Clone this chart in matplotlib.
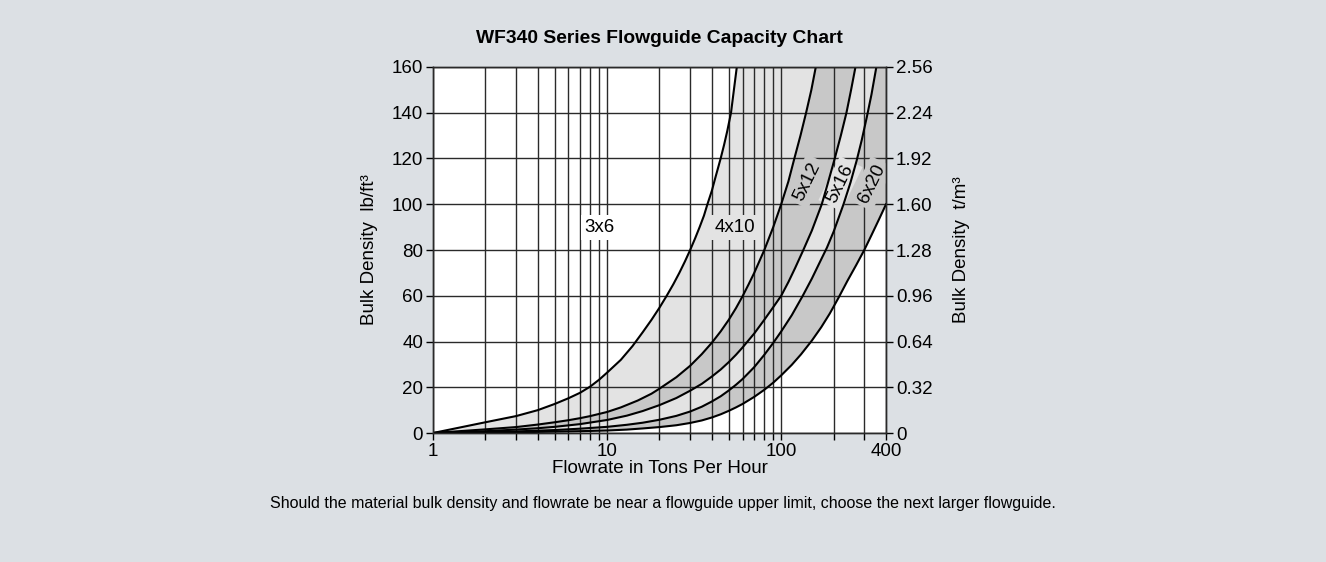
import matplotlib
matplotlib.use('Agg')
import matplotlib.pyplot as plt
from matplotlib.ticker import FixedLocator

plt.rcParams['font.family'] = ['Liberation Sans', 'DejaVu Sans']

# flowguide boundary curves (tons per hour, lb/ft3)
x_a = [1, 2, 3, 4, 5, 6, 7, 8, 9, 10, 12, 14, 16, 18, 20, 22, 24, 26, 28, 30,
       32, 34, 36, 37.7, 40, 42, 44.9, 47, 49, 51.5, 53.5, 55.6]
y_a = [0, 4.7, 7.4, 10, 12.7, 15.2, 17.6, 20.3, 23.3, 26.4, 32, 38, 44, 49.5, 54.8, 60, 65, 70, 75, 80,
       85, 90, 95, 100, 106, 112, 120, 126, 132, 140, 150, 160]

x_b = [1, 2, 3, 4, 5, 6, 7, 8, 10, 12, 15, 18, 20, 25, 30, 35, 40, 45, 50, 55,
       60, 65, 70, 80, 90, 100, 110, 119, 129, 139, 149, 158]
y_b = [0, 1.6, 2.6, 3.7, 4.7, 5.6, 6.5, 7.4, 9.2, 11.2, 14.2, 17.2, 19.4, 24.4, 29.4, 34.5, 39.5, 44.5, 49.5, 54.6,
       59.8, 65, 70, 80, 90, 100, 110, 120, 130, 140, 150, 160]

x_c = [1, 2, 3, 4, 5, 7, 10, 13, 16, 20, 25, 30, 35, 40, 45, 50, 55, 60, 70, 80, 90,
       100, 110, 120, 134, 150, 171, 185, 203, 220, 237, 252, 267]
y_c = [0, 0.8, 1.5, 2.1, 2.7, 3.9, 5.7, 7.6, 9.6, 12.2, 15.3, 18.5, 21.5, 24.7, 27.8, 31, 34.2, 37.4, 43.5, 49.5, 55,
       60, 66, 72, 80, 88.5, 100, 109, 120, 130, 140, 150, 160]

x_d = [1, 2, 3, 5, 7, 10, 13, 16, 20, 25, 30, 35, 40, 45, 50, 55, 60, 70, 80, 90, 100,
       115, 133, 150, 165, 183, 200, 228, 250, 271, 290, 310, 330, 352]
y_d = [0, 0.4, 0.7, 1.3, 1.9, 2.7, 3.6, 4.5, 5.8, 7.5, 9.4, 11.5, 13.8, 16.1, 18.6, 21.1, 23.6, 28.8, 34.2, 39.4, 44.4,
       51.5, 60, 67.5, 74, 81, 88, 100, 109.5, 119, 128, 138, 148, 160]

x_e = [1, 2, 3, 5, 7, 10, 13, 16, 20, 25, 30, 35, 40, 45, 50, 55, 60, 70, 80, 90, 100,
       115, 130, 150, 170, 190, 213, 240, 270, 300, 330, 365, 400]
y_e = [0, 0.2, 0.35, 0.6, 0.8, 1.1, 1.5, 2.0, 2.6, 3.4, 4.4, 5.5, 6.8, 8.2, 9.7, 11.2, 12.7, 15.8, 18.9, 22, 25.2,
       29.8, 34.4, 40.4, 46.3, 52.2, 59, 66.5, 73.5, 80, 86.5, 93.5, 100]

size_labels = ['3x6', '4x10', '5x12', '5x16', '6x20']
label_x = [9.1, 54, 141, 219, 330]
label_y = [90, 90, 110, 109, 109]

y_ticks_lb = [0, 20, 40, 60, 80, 100, 120, 140, 160]
y_ticks_t = ['0', '0.32', '0.64', '0.96', '1.28', '1.60', '1.92', '2.24', '2.56']
x_grid = [1, 2, 3, 4, 5, 6, 7, 8, 9, 10, 20, 30, 40, 50, 60, 70, 80, 90, 100, 200, 300, 400]
x_ticklabels = [1, 10, 100, 400]

bg = '#dce0e4'
light = '#e3e3e3'
dark = '#c8c8c8'
fs = 13.5

fig = plt.figure(figsize=(13.26, 5.62), dpi=100, facecolor=bg)
ax = fig.add_axes([0.3265, 0.2295, 0.3417, 0.6513])
ax.set_facecolor('white')
ax.set_xscale('log')
ax.set_xlim(1, 400)
ax.set_ylim(0, 160)

# shaded bands between neighbouring curves
ax.fill(x_a + x_b[::-1], y_a + y_b[::-1], color=light, lw=0, zorder=1)
ax.fill(x_b + x_c[::-1], y_b + y_c[::-1], color=dark, lw=0, zorder=1)
ax.fill(x_c + x_d[::-1], y_c + y_d[::-1], color=light, lw=0, zorder=1)
ax.fill(x_d + [400] + x_e[::-1], y_d + [160] + y_e[::-1], color=dark, lw=0, zorder=1)

for v in x_grid:
    ax.axvline(v, color='#2a2a2a', lw=1.0, zorder=1.5)
for v in y_ticks_lb:
    ax.axhline(v, color='#2a2a2a', lw=1.0, zorder=1.5)

for xs, ys in [(x_a, y_a), (x_b, y_b), (x_c, y_c), (x_d, y_d), (x_e, y_e)]:
    ax.plot(xs, ys, color='black', lw=1.5, zorder=3, solid_joinstyle='round')

# size labels sit on a patch of their band colour, hiding the grid behind them
bgs = ['white', light, dark, light, dark]
rots = [0, 0, 64, 64, 64]
for lab, lx, ly, fc, r in zip(size_labels, label_x, label_y, bgs, rots):
    ax.text(lx, ly, lab, ha='center', va='center', fontsize=fs, rotation=r,
            rotation_mode='anchor', zorder=2.5, clip_on=True,
            bbox=dict(boxstyle='square,pad=0.22', fc=fc, ec='none'))

ax.xaxis.set_major_locator(FixedLocator(x_grid))
ax.xaxis.set_minor_locator(FixedLocator([]))
ax.set_xticklabels([str(v) if v in x_ticklabels else '' for v in x_grid])
ax.set_yticks(y_ticks_lb)
ax.tick_params(axis='both', direction='out', length=5, width=1, labelsize=fs, colors='black', pad=2)

ax2 = ax.twinx()
ax2.set_ylim(0, 160)
ax2.set_yticks(y_ticks_lb)
ax2.set_yticklabels(y_ticks_t)
ax2.tick_params(axis='y', direction='out', length=5, width=1, labelsize=fs, pad=2)

for a in (ax, ax2):
    for s in a.spines.values():
        s.set_color('#2a2a2a')
        s.set_linewidth(1.0)

ax.set_ylabel('Bulk Density  lb/ft³', fontsize=fs, labelpad=10)
ax2.set_ylabel('Bulk Density  t/m³', fontsize=fs, labelpad=15)
ax.set_xlabel('Flowrate in Tons Per Hour', fontsize=fs, labelpad=0)
ax.set_title('WF340 Series Flowguide Capacity Chart', fontsize=13.9, fontweight='bold', pad=17)

fig.text(0.5, 0.104, 'Should the material bulk density and flowrate be near a flowguide upper limit, '
         'choose the next larger flowguide.', ha='center', va='center', fontsize=11.5)

fig.savefig('out.png', dpi=100, facecolor=bg)
